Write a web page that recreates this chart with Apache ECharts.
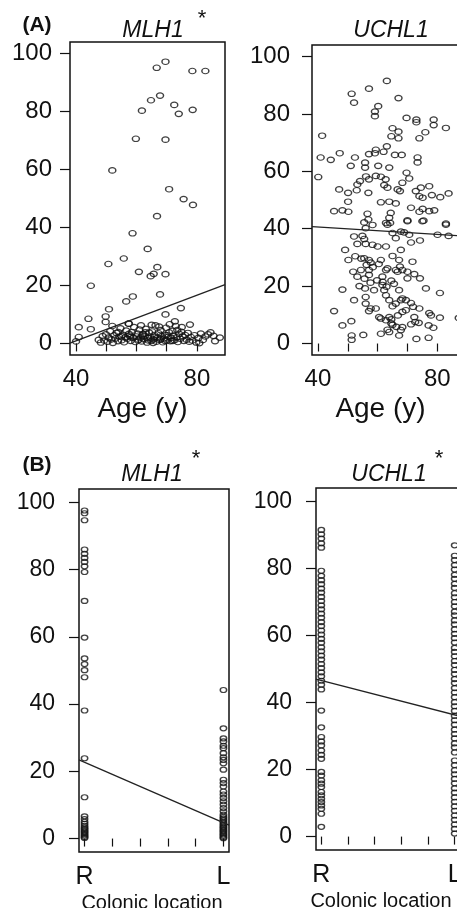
<!DOCTYPE html>
<html>
<head>
<meta charset="utf-8">
<script src="https://cdn.jsdelivr.net/npm/echarts@6/dist/echarts.min.js"></script>
<style>
  html, body { margin: 0; padding: 0; background: #fff; }
  #chart { width: 457px; height: 908px; }
</style>
</head>
<body>
<div id="chart"></div>
<script>
// (A) methylation vs age, (B) methylation vs colonic location (R / L)

// panel A: [age, methylation %]
const mlh1Age = [
  [66.7, 95.1], [69.6, 97.2], [78.5, 94.0], [82.8, 94.0], [64.8, 83.9], [67.8, 85.5],
  [61.8, 80.3], [72.5, 82.3], [74.0, 79.2], [78.6, 80.6], [59.8, 70.6], [69.6, 70.3],
  [52.0, 59.7], [70.8, 53.2], [75.6, 49.8], [78.7, 47.8], [66.8, 43.9],
  [58.7, 38.0], [63.7, 32.6], [50.7, 27.4], [55.8, 29.3], [60.8, 24.7], [66.9, 26.3],
  [65.7, 24.0], [64.7, 23.2], [69.6, 23.9], [44.9, 19.9], [67.8, 16.9], [58.8, 16.2],
  [56.6, 14.5], [50.9, 11.8], [49.8, 9.3], [49.8, 7.4], [44.1, 8.5], [40.9, 5.6],
  [44.9, 4.9], [40.9, 2.2], [40.0, 0.7], [74.7, 12.2], [69.6, 10.0], [77.7, 6.5],
  [87.6, 2.0], [83.7, 3.1], [80.8, 0.1], [57.5, 6.8], [72.7, 7.6], [65.0, 6.4],
  [47.5, 1.2], [48.2, 0.3], [48.8, 2.5], [49.3, 1.0], [49.9, 3.1], [50.4, 0.6],
  [50.8, 2.0], [51.3, 4.2], [51.7, 1.4], [52.2, 0.2], [52.6, 2.8], [53.0, 1.7],
  [53.4, 3.6], [53.9, 0.8], [54.3, 2.3], [54.7, 5.2], [55.1, 1.1], [55.5, 3.0],
  [55.9, 0.4], [56.3, 2.1], [56.6, 4.4], [57.0, 1.6], [57.4, 6.8], [57.8, 2.7],
  [58.1, 0.9], [58.5, 3.9], [58.9, 1.9], [59.2, 5.6], [59.6, 0.5], [60.0, 2.4],
  [60.3, 3.4], [60.7, 1.3], [61.0, 4.8], [61.4, 2.0], [61.7, 0.7], [62.1, 3.2],
  [62.4, 1.5], [62.8, 2.6], [63.1, 5.0], [63.5, 0.3], [63.8, 1.8], [64.2, 3.7],
  [64.5, 2.2], [64.9, 0.9], [65.2, 4.1], [65.6, 1.4], [65.9, 2.9], [66.3, 6.2],
  [66.6, 0.6], [67.0, 2.0], [67.3, 3.5], [67.7, 1.2], [68.0, 4.6], [68.4, 2.5],
  [68.7, 0.4], [69.1, 1.7], [69.4, 3.0], [69.8, 5.4], [70.1, 1.0], [70.5, 2.3],
  [70.8, 3.8], [71.2, 0.8], [71.5, 1.9], [71.9, 4.3], [72.2, 2.7], [72.6, 1.1],
  [73.0, 6.0], [73.3, 2.1], [73.7, 0.5], [74.1, 3.3], [74.5, 1.6], [74.9, 4.0],
  [75.3, 2.4], [75.7, 0.9], [76.1, 2.9], [76.6, 1.3], [77.0, 3.6], [77.5, 0.6],
  [78.0, 2.2], [78.5, 1.0], [79.2, 2.8], [79.8, 0.3], [80.5, 1.9], [81.3, 3.4],
  [82.0, 1.2], [82.8, 2.4], [84.5, 3.8], [85.5, 2.6], [86.0, 0.8],
  [55.0, 2.5], [58.0, 2.2], [60.5, 1.0], [62.0, 2.8], [64.0, 1.0], [66.0, 2.3],
  [68.0, 1.5], [70.0, 2.9], [72.0, 0.9], [57.5, 3.3], [63.0, 3.8], [65.5, 0.2],
  [69.5, 0.9], [73.5, 4.6], [61.5, 6.2], [52.0, 6.0], [54.0, 3.9], [75.0, 5.6],
  [67.5, 5.8], [71.0, 6.6]
];

const uchl1Age = [
  [41.4, 72.4], [40.9, 64.8], [44.3, 64.0], [47.3, 66.3], [40.1, 58.0], [51.3, 87.0],
  [52.1, 83.9], [57.1, 88.8], [63.1, 91.5], [67.0, 85.5], [60.2, 82.7], [59.1, 80.8],
  [59.1, 79.2], [69.7, 78.6], [73.0, 78.0], [73.0, 77.1], [78.8, 78.0], [78.8, 76.1],
  [82.9, 75.1], [76.0, 73.6], [74.0, 71.5], [65.0, 75.0], [67.0, 73.8], [67.0, 71.5],
  [64.6, 72.2], [63.1, 68.7], [59.4, 67.5], [59.1, 66.3], [62.0, 66.8], [57.1, 66.0],
  [65.8, 65.7], [68.1, 65.7], [73.4, 64.8], [73.4, 63.1], [52.4, 64.8], [51.0, 61.9],
  [55.8, 63.0], [55.8, 61.3], [60.2, 61.9], [63.9, 61.3], [56.1, 58.2], [57.1, 57.2],
  [59.4, 58.4], [61.1, 58.1], [62.7, 57.2], [54.1, 56.6], [53.2, 55.4], [69.7, 59.5],
  [70.6, 57.5], [62.2, 55.2], [63.3, 54.3], [68.3, 56.0], [66.7, 53.7], [67.5, 53.1],
  [47.1, 53.7], [50.1, 52.5], [53.0, 53.4], [56.9, 52.5], [72.8, 53.1], [74.5, 54.3],
  [77.3, 54.8], [74.0, 51.3], [75.1, 50.8], [78.2, 51.7], [81.0, 51.0], [83.8, 52.3],
  [50.1, 49.4], [61.1, 49.2], [63.9, 49.4], [66.1, 48.8], [45.4, 46.1], [48.2, 46.4],
  [50.2, 45.9], [71.2, 47.3], [75.1, 46.9], [74.0, 45.9], [77.3, 46.1], [79.0, 46.4],
  [56.6, 45.2], [56.9, 43.2], [64.4, 45.5], [63.9, 43.8], [70.0, 42.9], [75.4, 42.8],
  [82.9, 41.4], [58.3, 41.3], [62.8, 42.0],
  [55.5, 42.2], [63.3, 41.4], [64.2, 42.0], [70.0, 42.6], [75.0, 42.6], [82.9, 41.8],
  [56.0, 40.2], [65.0, 38.5], [66.1, 36.7], [67.8, 39.0], [68.9, 38.7], [70.6, 37.9],
  [71.2, 35.2], [74.2, 35.9], [80.1, 37.9], [83.8, 37.5], [52.1, 37.3], [54.9, 37.5],
  [55.5, 36.4], [53.2, 34.7], [56.0, 34.7], [58.3, 34.4], [60.0, 33.8], [62.8, 33.8],
  [49.1, 32.6], [67.8, 32.6], [50.2, 29.1], [55.5, 29.7], [57.1, 29.1], [57.7, 28.2],
  [61.1, 29.1], [65.0, 30.5], [67.2, 29.1], [67.5, 26.8], [71.7, 28.5], [51.8, 25.0],
  [53.2, 23.3], [54.4, 25.6], [57.1, 25.6], [57.1, 23.9], [61.6, 23.3], [62.8, 25.6],
  [63.3, 26.2], [66.1, 25.6], [66.7, 25.0], [68.3, 25.6], [70.0, 25.0], [70.0, 22.7],
  [72.3, 24.2], [74.2, 22.7], [48.2, 18.8], [52.1, 15.1], [55.8, 19.2], [58.8, 18.6],
  [56.0, 16.2], [56.0, 13.9], [57.7, 12.2], [61.6, 20.4], [62.2, 18.6], [62.8, 16.8],
  [63.9, 15.1], [65.0, 13.0], [66.1, 13.9], [67.2, 18.6], [67.8, 15.1], [68.3, 15.7],
  [69.5, 15.1], [71.2, 14.1], [76.2, 19.2], [80.9, 17.6], [45.4, 11.3], [57.1, 11.3],
  [59.4, 12.2], [60.5, 9.2], [61.1, 8.7], [62.8, 8.1], [63.9, 9.2], [64.6, 8.4],
  [68.3, 11.0], [69.5, 11.6], [72.3, 9.2], [74.0, 12.2], [77.3, 10.6], [77.9, 9.8],
  [80.9, 9.0], [87.2, 8.9], [48.2, 6.3], [51.2, 7.8], [61.1, 3.4], [63.3, 4.8],
  [63.9, 4.0], [67.2, 2.8], [71.2, 6.7], [68.3, 5.7], [77.1, 6.3], [51.3, 2.8],
  [51.3, 1.3], [55.2, 3.0], [73.0, 1.6], [77.1, 2.0],
  [72.6, 7.5], [73.8, 7.2], [78.7, 5.5], [67.8, 4.7], [66.3, 5.8], [65.0, 6.5],
  [71.9, 12.8], [66.8, 9.8], [64.6, 7.0], [52.5, 30.4], [54.5, 29.6], [56.3, 27.4],
  [58.4, 26.6], [60.4, 27.7], [59.8, 22.0], [61.7, 21.5], [64.6, 21.9], [65.5, 20.8],
  [63.0, 19.8], [57.6, 21.2], [55.6, 22.6], [53.9, 20.0]
];

// least-squares lines drawn across the plot region: [x, y] at both ends
const mlh1AgeFit = [[38, 0.1], [89.3, 20.3]];
const uchl1AgeFit = [[38, 40.7], [89.3, 37.4]];

// panel B: methylation % by location (R = 1, L = 2)
const mlh1RightColon = [97.6, 96.8, 94.7, 86.0, 84.7, 83.5, 82.3, 81.0, 79.3, 70.7, 59.8,
  53.6, 51.9, 50.1, 48.0, 38.1, 23.9, 12.3, 6.6, 5.8, 5.0, 4.4, 3.8, 3.3, 2.9, 2.5, 2.1,
  1.7, 1.3, 0.9, 0.5, 0.2];
const mlh1LeftColon = [44.2, 32.8, 29.8, 28.9, 27.6, 26.9, 25.4, 24.2, 23.4, 22.4, 20.5,
  17.5, 16.5, 15.5, 14.0, 13.1, 12.1, 11.1, 10.1, 9.1, 8.1, 7.1, 6.5, 6.0, 5.5, 5.0, 4.5,
  4.0, 3.6, 3.2, 2.8, 2.4, 2.0, 1.6, 1.2, 0.8, 0.4, 0.1];
const uchl1RightColon = [91.5, 90.2, 88.9, 87.5, 86.2, 79.3, 77.8, 76.5, 75.3, 74.0, 72.8,
  71.5, 70.3, 69.0, 67.8, 66.5, 65.3, 64.0, 62.8, 61.5, 60.3, 59.0, 57.8, 56.5, 55.3, 54.0,
  52.8, 51.5, 50.3, 49.0, 47.8, 46.5, 45.3, 43.9, 37.6, 32.6, 29.7, 28.4, 27.2, 25.7, 24.4,
  23.2, 19.3, 18.2, 16.8, 15.8, 14.8, 13.3, 12.3, 11.3, 10.3, 9.3, 8.3, 6.8, 2.9];
const uchl1LeftColon = [86.9, 83.8, 82.5, 81.0, 79.7, 78.1, 76.9, 75.4, 74.2, 72.6, 71.4,
  70.0, 68.7, 67.1, 66.0, 64.5, 63.3, 61.8, 60.5, 59.2, 57.9, 56.3, 55.1, 53.8, 52.4, 51.2,
  49.7, 48.5, 47.0, 45.8, 44.3, 43.0, 41.6, 40.1, 38.9, 37.5, 36.0, 34.7, 33.4, 31.9, 30.6,
  29.3, 27.8, 26.6, 25.1, 22.7, 21.3, 19.8, 18.6, 17.2, 15.9, 14.4, 13.1, 11.7, 10.4, 9.0,
  7.7, 6.3, 5.0, 3.6, 2.3, 0.9];
const mlh1LocFit = [[0.96, 23.4], [2.04, 4.0]];
const uchl1LocFit = [[0.96, 47.0], [2.04, 35.9]];

const yTicks = [0, 20, 40, 60, 80, 100];
const ageTicks = [40, 50, 60, 70, 80];
const ageLabels = [40, 80];
const locTicks = [1, 1.2, 1.4, 1.6, 1.8, 2];
const locLabels = [1, 2];
const locNames = { 1: 'R', 2: 'L' };

const FONT = '"Liberation Sans", Arial, Helvetica, sans-serif';
const INK = '#111';

function yAxis(gridIndex, margin, size) {
  return {
    type: 'value', gridIndex, min: -4, max: 104,
    axisLine: { show: false },
    splitLine: { show: false },
    axisTick: { customValues: yTicks, length: 10, lineStyle: { color: INK, width: 1.2 } },
    axisLabel: { customValues: yTicks, margin, color: INK, fontSize: size, fontFamily: FONT }
  };
}

function ageAxis(gridIndex, padRight) {
  return {
    type: 'value', gridIndex, min: 38, max: 89.3,
    axisLine: { show: false },
    splitLine: { show: false },
    axisTick: { customValues: ageTicks, length: 8, lineStyle: { color: INK, width: 1.2 } },
    axisLabel: { customValues: ageLabels, margin: 12, color: INK, fontSize: 24, fontFamily: FONT },
    name: 'Age (y)', nameLocation: 'middle', nameGap: 40,
    nameTextStyle: { color: INK, fontSize: 28, fontFamily: FONT, padding: [0, padRight, 0, 0] }
  };
}

function locAxis(gridIndex, padRight) {
  return {
    type: 'value', gridIndex, min: 0.96, max: 2.04,
    axisLine: { show: false },
    splitLine: { show: false },
    axisTick: { customValues: locTicks, length: 8, lineStyle: { color: INK, width: 1.2 } },
    axisLabel: {
      customValues: locLabels, margin: 13, color: INK, fontSize: 25, fontFamily: FONT,
      formatter: (v) => locNames[Math.round(v)]
    },
    name: 'Colonic location', nameLocation: 'middle', nameGap: 41,
    nameTextStyle: { color: INK, fontSize: 20, fontFamily: FONT, padding: [0, padRight, 0, 0] }
  };
}

function dots(xAxisIndex, data, size) {
  return {
    type: 'scatter', xAxisIndex, yAxisIndex: xAxisIndex, data,
    symbol: 'circle', symbolSize: size, silent: true,
    itemStyle: { color: 'rgba(0,0,0,0)', borderColor: '#111', borderWidth: 1.3 }
  };
}

function fit(xAxisIndex, data) {
  return {
    type: 'line', xAxisIndex, yAxisIndex: xAxisIndex, data,
    symbol: 'none', silent: true,
    lineStyle: { color: '#222', width: 1.3 }
  };
}

function label(x, y, text, font) {
  return {
    type: 'text', x, y, silent: true,
    style: { text, font, fill: INK, textAlign: 'center', textVerticalAlign: 'middle' }
  };
}

// right-hand panels run past the canvas edge, as in the cropped original
const gridStyle = {
  show: true, borderColor: INK, borderWidth: 1.5, backgroundColor: 'transparent',
  outerBoundsMode: 'none', containLabel: false
};
const atR = (v) => [1, v];
const atL = (v) => [2, v];

const chart = echarts.init(document.getElementById('chart'));
chart.setOption({
  animation: false,
  backgroundColor: '#fff',
  grid: [
    { left: 70, top: 42, width: 155, height: 313, ...gridStyle },
    { left: 312, top: 45, width: 153, height: 310, ...gridStyle },
    { left: 79, top: 489, width: 150, height: 363, ...gridStyle },
    { left: 316, top: 488, width: 144, height: 362, ...gridStyle }
  ],
  xAxis: [ageAxis(0, 10), ageAxis(1, 16), locAxis(2, 4), locAxis(3, 14)],
  yAxis: [yAxis(0, 18, 24), yAxis(1, 22, 24), yAxis(2, 24, 23), yAxis(3, 24, 23)],
  series: [
    dots(0, mlh1Age, [7, 5.5]),
    fit(0, mlh1AgeFit),
    dots(1, uchl1Age, [7, 5.5]),
    fit(1, uchl1AgeFit),
    dots(2, mlh1RightColon.map(atR).concat(mlh1LeftColon.map(atL)), [6.4, 5]),
    fit(2, mlh1LocFit),
    dots(3, uchl1RightColon.map(atR).concat(uchl1LeftColon.map(atL)), [6.4, 5]),
    fit(3, uchl1LocFit)
  ],
  graphic: [
    label(37, 25, '(A)', 'bold 21px ' + FONT),
    label(153, 31, 'MLH1', 'italic 23px ' + FONT),
    label(202, 19, '*', '22px ' + FONT),
    label(391, 31, 'UCHL1', 'italic 23px ' + FONT),
    label(37, 465, '(B)', 'bold 21px ' + FONT),
    label(152, 475, 'MLH1', 'italic 23px ' + FONT),
    label(196, 459, '*', '22px ' + FONT),
    label(389, 475, 'UCHL1', 'italic 23px ' + FONT),
    label(439, 459, '*', '22px ' + FONT)
  ]
});
</script>
</body>
</html>
